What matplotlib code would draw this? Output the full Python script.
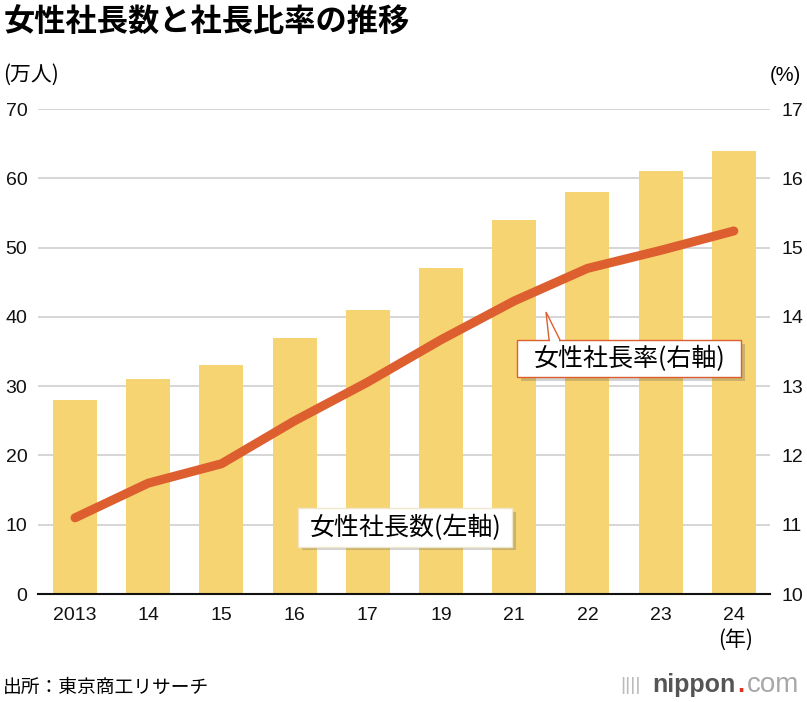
import matplotlib
matplotlib.use('Agg')
import matplotlib.pyplot as plt
import matplotlib.patheffects as pe
from matplotlib.patches import Polygon, Rectangle

plt.rcParams['font.family'] = ['Noto Sans CJK JP', 'DejaVu Sans']

# data
years = ['2013', '14', '15', '16', '17', '19', '21', '22', '23', '24']
counts = [28, 31, 33, 37, 41, 47, 54, 58, 61, 64]          # 万人 (left axis)
ratio = [11.1, 11.6, 11.88, 12.5, 13.06, 13.67, 14.23, 14.7, 14.96, 15.24]  # % (right axis)

bar_color = '#F6D472'
line_color = '#DD5E2E'
grid_color = '#D0D0D0'
num_font = ['Liberation Sans', 'DejaVu Sans']

fig = plt.figure(figsize=(8.07, 7.02), dpi=100)
ax = fig.add_axes([0.0476, 0.1538, 0.9071, 0.6909])
ax2 = ax.twinx()

x = list(range(len(years)))
ax.bar(x, counts, width=0.6, color=bar_color, zorder=2)
ax.set_xlim(-0.5, len(years) - 0.5)
ax.set_ylim(0, 70)
ax.set_yticks(range(0, 71, 10))
ax.grid(axis='y', color=grid_color, linewidth=1.2, zorder=0)
ax.set_axisbelow(True)

ax2.plot(x, ratio, color=line_color, linewidth=6.5, solid_capstyle='round',
         solid_joinstyle='round', zorder=5)
ax2.set_ylim(10, 17)
ax2.set_yticks(range(10, 18))

for a in (ax, ax2):
    for s in ('top', 'left', 'right'):
        a.spines[s].set_visible(False)
    a.tick_params(length=0, labelsize=14, colors='#111111')
ax.spines['bottom'].set_color('#111111')
ax.spines['bottom'].set_linewidth(1.5)
ax2.spines['bottom'].set_visible(False)
ax.set_xticks(x)
ax.set_xticklabels(years)
ax.tick_params(axis='x', pad=9)
ax.tick_params(axis='y', pad=8)
ax2.tick_params(axis='y', pad=8)
for lbl in ax.get_xticklabels() + ax.get_yticklabels() + ax2.get_yticklabels():
    lbl.set_family(num_font)

# callout labels (boxes in data coords of the left axis)
shadow = [pe.SimplePatchShadow(offset=(2.5, -2.5), alpha=0.25), pe.Normal()]
box1 = Rectangle((3.05, 6.8), 2.92, 5.6, fc='white', ec='#EFE6CC', lw=1, zorder=10)
box1.set_path_effects(shadow)
ax.add_patch(box1)
ax.text(4.51, 9.6, '女性社長数(左軸)', fontsize=18, ha='center', va='center', zorder=12)

box2 = Rectangle((6.04, 31.3), 3.06, 5.35, fc='white', ec=line_color, lw=1, zorder=10)
box2.set_path_effects(shadow)
ax.add_patch(box2)
ax.add_patch(Polygon([(6.476, 36.65), (6.434, 40.7), (6.626, 36.65)], closed=True,
                     fc='white', ec=line_color, lw=1, zorder=11))
ax.add_patch(Polygon([(6.486, 36.2), (6.486, 36.75), (6.616, 36.75), (6.616, 36.2)],
                     fc='white', ec='none', zorder=11.5))
ax.text(7.57, 33.95, '女性社長率(右軸)', fontsize=18, ha='center', va='center', zorder=12)

# titles and notes
fig.text(0.005, 0.99, '女性社長数と社長比率の推移', fontsize=22.5, fontweight='bold', va='top')
fig.text(0.004, 0.893, '(万人)', fontsize=15, va='center')
fig.text(0.993, 0.893, '(%)', fontsize=14.5, va='center', ha='right', family=num_font)
fig.text(0.911, 0.088, '(年)', fontsize=15, va='center', ha='center')
fig.text(0.003, 0.021, '出所：東京商工リサーチ', fontsize=13.5, va='center')

# logo
fig.text(0.768, 0.024, '||||', fontsize=14, color='#BBBBBB', va='center', ha='left',
         family=num_font)
fig.text(0.912, 0.024, 'nippon', fontsize=18, color='#555555', fontweight='bold',
         va='center', ha='right', family=num_font)
fig.text(0.9185, 0.024, '.', fontsize=18, color='#E0301E', fontweight='bold',
         va='center', ha='center', family=num_font)
fig.text(0.925, 0.024, 'com', fontsize=20, color='#A8A8A8', va='center', ha='left',
         family=num_font)

fig.savefig('out.png', dpi=100)
